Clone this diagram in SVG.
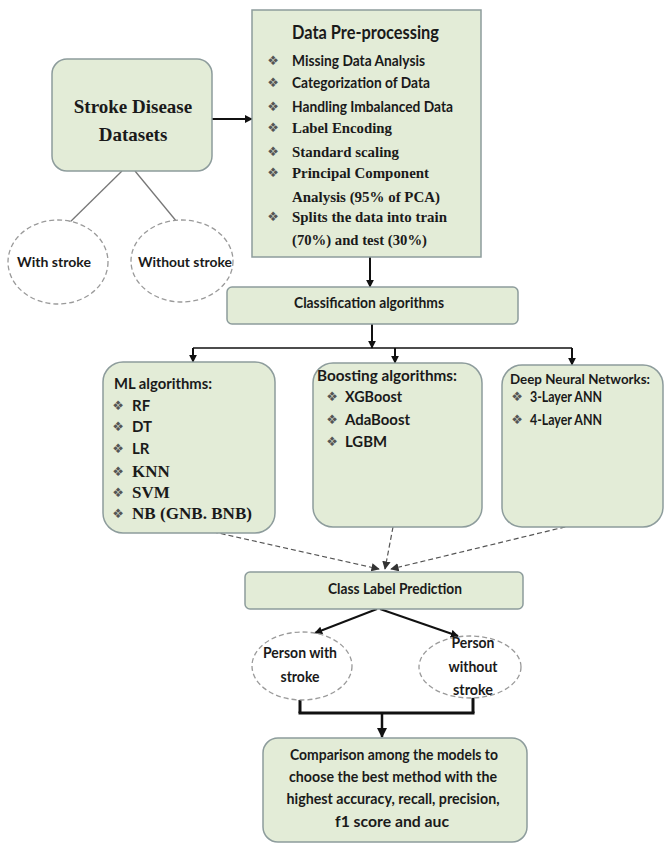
<svg xmlns="http://www.w3.org/2000/svg" width="665" height="843" viewBox="0 0 665 843">
<style>
.box{fill:#e3ecd7;stroke:#8d9c9c;stroke-width:1.5}
.oval{fill:#ffffff;stroke:#9a9a9a;stroke-width:1.3;stroke-dasharray:5 3}
.s{font-family:Lato,"Liberation Sans",sans-serif;font-weight:bold;fill:#1a1a1a}
.t{font-family:"Liberation Serif",serif;font-weight:bold;fill:#1a1a1a}
.b{font-family:"DejaVu Sans",sans-serif;font-size:13px;fill:#555;text-anchor:middle}
.m{text-anchor:middle}
.solid{stroke:#111;stroke-width:2;fill:none}
.thick{stroke:#111;stroke-width:3;fill:none}
.dash{stroke:#555;stroke-width:1.2;stroke-dasharray:5 3;fill:none}
.grey{stroke:#777;stroke-width:1.3;fill:none}
</style>
<defs>
<marker id="ah" viewBox="0 0 10 10" refX="9" refY="5" markerWidth="4" markerHeight="4" orient="auto" markerUnits="strokeWidth"><path d="M0,0L10,5L0,10z" fill="#111"/></marker>
<marker id="ahd" viewBox="0 0 10 10" refX="9" refY="5" markerWidth="7" markerHeight="7" orient="auto" markerUnits="strokeWidth"><path d="M0,0L10,5L0,10z" fill="#333"/></marker>
</defs>

<g id="connectors">
<line class="grey" x1="122" y1="171" x2="65" y2="227"/>
<line class="grey" x1="135" y1="171" x2="177" y2="222"/>
<line class="solid" x1="212" y1="119" x2="252" y2="119" marker-end="url(#ah)"/>
<line class="solid" x1="370" y1="257" x2="370" y2="287" marker-end="url(#ah)"/>
<line class="solid" x1="372" y1="324" x2="372" y2="348" marker-end="url(#ah)"/>
<line class="solid" x1="193" y1="348" x2="572" y2="348" style="stroke-width:1.5"/>
<line class="solid" x1="193" y1="348" x2="193" y2="362" marker-end="url(#ah)"/>
<line class="solid" x1="395" y1="348" x2="395" y2="363" marker-end="url(#ah)"/>
<line class="solid" x1="572" y1="348" x2="572" y2="365" marker-end="url(#ah)"/>
<line class="dash" x1="205" y1="530" x2="379" y2="569" marker-end="url(#ahd)"/>
<line class="dash" x1="393" y1="527" x2="385" y2="569" marker-end="url(#ahd)"/>
<line class="dash" x1="573" y1="525" x2="391" y2="569" marker-end="url(#ahd)"/>
<line class="solid" x1="377" y1="609" x2="315" y2="633" marker-end="url(#ah)"/>
<line class="solid" x1="380" y1="609" x2="458" y2="636" marker-end="url(#ah)"/>
<line class="thick" x1="300" y1="700" x2="300" y2="713"/>
<line class="thick" x1="473" y1="697" x2="473" y2="713"/>
<line class="thick" x1="298.5" y1="713" x2="474.5" y2="713"/>
<line class="thick" x1="382" y1="713" x2="382" y2="737" marker-end="url(#ah)" style="stroke-width:2.5"/>
</g>

<g id="datasets">
<rect class="box" x="52" y="59" width="160" height="112" rx="15"/>
<text class="t m" x="133" y="113" font-size="19">Stroke Disease</text>
<text class="t m" x="133" y="141" font-size="19">Datasets</text>
</g>

<g id="with-stroke">
<ellipse class="oval" cx="58" cy="262" rx="50" ry="42"/>
<text class="s m" x="54" y="267" font-size="14" textLength="74" lengthAdjust="spacingAndGlyphs">With stroke</text>
</g>

<g id="without-stroke">
<ellipse class="oval" cx="182" cy="261" rx="51" ry="41"/>
<text class="s m" x="185" y="267" font-size="14" textLength="94" lengthAdjust="spacingAndGlyphs">Without stroke</text>
</g>

<g id="preprocessing">
<rect class="box" x="252" y="10" width="229" height="247"/>
<text class="s" x="292" y="39" font-size="18" textLength="147" lengthAdjust="spacingAndGlyphs">Data Pre-processing</text>
<text class="b" x="273" y="65">❖</text>
<text class="b" x="273" y="87">❖</text>
<text class="b" x="273" y="111">❖</text>
<text class="b" x="273" y="132">❖</text>
<text class="b" x="273" y="156">❖</text>
<text class="b" x="273" y="177">❖</text>
<text class="b" x="273" y="221">❖</text>
<text class="s" x="292" y="66" font-size="15" textLength="133" lengthAdjust="spacingAndGlyphs">Missing Data Analysis</text>
<text class="s" x="292" y="88" font-size="15" textLength="138" lengthAdjust="spacingAndGlyphs">Categorization of Data</text>
<text class="s" x="292" y="112" font-size="15" textLength="161" lengthAdjust="spacingAndGlyphs">Handling Imbalanced Data</text>
<text class="t" x="292" y="133" font-size="15" textLength="100" lengthAdjust="spacingAndGlyphs">Label Encoding</text>
<text class="t" x="292" y="157" font-size="15" textLength="107" lengthAdjust="spacingAndGlyphs">Standard scaling</text>
<text class="t" x="292" y="178" font-size="15" textLength="137" lengthAdjust="spacingAndGlyphs">Principal Component</text>
<text class="t" x="292" y="202" font-size="15" textLength="148" lengthAdjust="spacingAndGlyphs">Analysis (95% of PCA)</text>
<text class="t" x="292" y="222" font-size="15" textLength="155" lengthAdjust="spacingAndGlyphs">Splits the data into train</text>
<text class="t" x="292" y="245" font-size="15" textLength="135" lengthAdjust="spacingAndGlyphs">(70%) and test (30%)</text>
</g>

<g id="classification">
<rect class="box" x="227" y="287" width="291" height="37" rx="5"/>
<text class="s m" x="369" y="308" font-size="15" textLength="150" lengthAdjust="spacingAndGlyphs">Classification algorithms</text>
</g>

<g id="ml">
<rect class="box" x="103" y="362" width="172" height="171" rx="20"/>
<text class="s" x="114" y="389" font-size="15" textLength="98" lengthAdjust="spacingAndGlyphs">ML algorithms:</text>
<text class="b" x="118" y="410">❖</text>
<text class="b" x="118" y="431">❖</text>
<text class="b" x="118" y="453">❖</text>
<text class="b" x="118" y="476">❖</text>
<text class="b" x="118" y="497">❖</text>
<text class="b" x="118" y="518">❖</text>
<text class="s" x="132" y="411" font-size="15">RF</text>
<text class="s" x="132" y="432" font-size="15">DT</text>
<text class="s" x="132" y="454" font-size="15">LR</text>
<text class="t" x="132" y="477" font-size="17">KNN</text>
<text class="t" x="132" y="498" font-size="17">SVM</text>
<text class="t" x="132" y="519" font-size="17" textLength="120" lengthAdjust="spacingAndGlyphs">NB (GNB. BNB)</text>
</g>

<g id="boosting">
<rect class="box" x="313" y="363" width="169" height="164" rx="20"/>
<text class="s" x="317" y="381" font-size="15" textLength="140" lengthAdjust="spacingAndGlyphs">Boosting algorithms:</text>
<text class="b" x="332" y="401">❖</text>
<text class="b" x="332" y="424">❖</text>
<text class="b" x="332" y="446">❖</text>
<text class="s" x="345" y="402" font-size="15" textLength="57" lengthAdjust="spacingAndGlyphs">XGBoost</text>
<text class="s" x="345" y="425" font-size="15" textLength="65" lengthAdjust="spacingAndGlyphs">AdaBoost</text>
<text class="s" x="345" y="447" font-size="15" textLength="42" lengthAdjust="spacingAndGlyphs">LGBM</text>
</g>

<g id="dnn">
<rect class="box" x="502" y="365" width="161" height="162" rx="20"/>
<text class="s" x="510" y="384" font-size="14" textLength="140" lengthAdjust="spacingAndGlyphs">Deep Neural Networks:</text>
<text class="b" x="517" y="401">❖</text>
<text class="b" x="517" y="424">❖</text>
<text class="s" x="530" y="402" font-size="15" textLength="72" lengthAdjust="spacingAndGlyphs">3-Layer ANN</text>
<text class="s" x="530" y="425" font-size="15" textLength="72" lengthAdjust="spacingAndGlyphs">4-Layer ANN</text>
</g>

<g id="class-label">
<rect class="box" x="245" y="572" width="278" height="37" rx="5"/>
<text class="s m" x="395" y="594" font-size="15" textLength="134" lengthAdjust="spacingAndGlyphs">Class Label Prediction</text>
</g>

<g id="person-with">
<ellipse class="oval" cx="302" cy="666" rx="50" ry="34"/>
<text class="s m" x="300" y="658" font-size="15" textLength="74" lengthAdjust="spacingAndGlyphs">Person with</text>
<text class="s m" x="300" y="682" font-size="15" textLength="39" lengthAdjust="spacingAndGlyphs">stroke</text>
</g>

<g id="person-without">
<ellipse class="oval" cx="470" cy="667" rx="51" ry="31"/>
<text class="s m" x="473" y="648" font-size="15" textLength="43" lengthAdjust="spacingAndGlyphs">Person</text>
<text class="s m" x="473" y="672" font-size="15" textLength="49" lengthAdjust="spacingAndGlyphs">without</text>
<text class="s m" x="473" y="695" font-size="15" textLength="40" lengthAdjust="spacingAndGlyphs">stroke</text>
</g>

<g id="comparison">
<rect class="box" x="263" y="738" width="264" height="104" rx="15"/>
<text class="s m" x="394" y="760" font-size="15" textLength="208" lengthAdjust="spacingAndGlyphs">Comparison among the models to</text>
<text class="s m" x="393" y="782" font-size="15" textLength="208" lengthAdjust="spacingAndGlyphs">choose the best method with the</text>
<text class="s m" x="393" y="804" font-size="15" textLength="213" lengthAdjust="spacingAndGlyphs">highest accuracy, recall, precision,</text>
<text class="s m" x="392" y="827" font-size="15" textLength="114" lengthAdjust="spacingAndGlyphs">f1 score and auc</text>
</g>
</svg>
